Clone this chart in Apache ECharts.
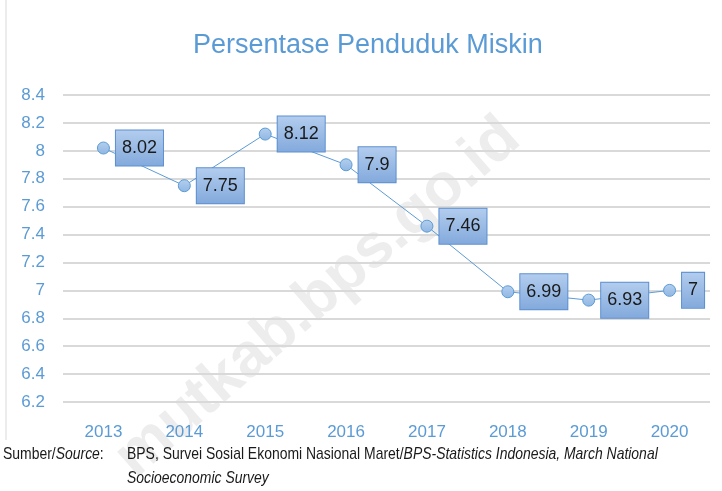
<!DOCTYPE html>
<html>
<head>
<meta charset="utf-8">
<script src="https://cdn.jsdelivr.net/npm/echarts@6/dist/echarts.min.js"></script>
<style>
  html, body { margin: 0; padding: 0; background: #fff; }
  #main { width: 722px; height: 491px; }
</style>
</head>
<body>
<div id="main"></div>
<script>
    var years = ['2013', '2014', '2015', '2016', '2017', '2018', '2019', '2020'];
    var persen = [8.02, 7.75, 8.12, 7.9, 7.46, 6.99, 6.93, 7];

    var font = '"Liberation Sans", sans-serif';
    var chart = echarts.init(document.getElementById('main'));
    window.addEventListener("resize", function () {
        chart.resize()
    });
    chart.setOption({
        animation: false,
        title: {
            text: 'Persentase Penduduk Miskin', left: 188, top: 27,
            textStyle: {color: '#5b9bd5', fontSize: 27, fontWeight: 'normal', fontFamily: font}
        },
        grid: {left: 63, right: 12, top: 95, bottom: 89},
        xAxis: {
            type: 'category', data: years,
            axisLine: {show: false}, axisTick: {show: false},
            axisLabel: {color: '#5b9bd5', fontSize: 17, fontFamily: font, margin: 22}
        },
        yAxis: {
            type: 'value', min: 6.2, max: 8.4, interval: 0.2,
            axisLine: {show: false}, axisTick: {show: false},
            splitLine: {lineStyle: {color: '#d9d9d9', width: 2}},
            axisLabel: {
                color: '#5b9bd5', fontSize: 17, fontFamily: font, margin: 18,
                formatter: function (v) { return String(+v.toFixed(1)); }
            }
        },
        series: [{
            type: 'line',
            data: persen,
            symbol: 'circle', symbolSize: 12,
            lineStyle: {color: '#5b9bd5', width: 1},
            itemStyle: {
                color: new echarts.graphic.LinearGradient(0, 0, 0, 1, [
                    {offset: 0, color: '#b4cfee'}, {offset: 1, color: '#8fb6e3'}
                ]),
                borderColor: '#5b9bd5', borderWidth: 1
            },
            label: {
                show: true, position: 'right', distance: 6,
                fontSize: 18, fontFamily: font, color: '#1a1a1a',
                backgroundColor: new echarts.graphic.LinearGradient(0, 0, 0, 1, [
                    {offset: 0, color: '#b3cdee'}, {offset: 1, color: '#82a9dc'}
                ]),
                borderColor: '#5b8fd0', borderWidth: 1,
                padding: [9, 6, 8, 6]
            }
        }],
        graphic: [
            {
                type: 'line', shape: {x1: 6, y1: 0, x2: 6, y2: 440},
                style: {stroke: '#d9d9d9', lineWidth: 1}, silent: true
            },
            {
                type: 'text', x: 318, y: 298, rotation: 41 * Math.PI / 180, z: -1,
                style: {
                    text: 'mutkab.bps.go.id', fill: 'rgba(200,200,200,0.32)',
                    font: 'bold 62px "Liberation Sans", sans-serif',
                    align: 'center', verticalAlign: 'middle'
                }, silent: true
            },
            {
                type: 'text', x: 3, y: 442, scaleX: 0.82,
                style: {
                    text: '{n|Sumber/}{i|Source}{n|:}',
                    rich: {
                        n: {fontSize: 17, fontFamily: font, fill: '#1a1a1a', lineHeight: 24},
                        i: {fontSize: 17, fontFamily: font, fontStyle: 'italic', fill: '#1a1a1a', lineHeight: 24}
                    }
                }
            },
            {
                type: 'text', x: 127, y: 442, scaleX: 0.82,
                style: {
                    text: '{n|BPS, Survei Sosial Ekonomi Nasional Maret/}{i|BPS-Statistics Indonesia, March National}\n{i|Socioeconomic Survey}',
                    rich: {
                        n: {fontSize: 17, fontFamily: font, fill: '#1a1a1a', lineHeight: 24},
                        i: {fontSize: 17, fontFamily: font, fontStyle: 'italic', fill: '#1a1a1a', lineHeight: 24}
                    }
                }
            }
        ]
    });
</script>
</body>
</html>
